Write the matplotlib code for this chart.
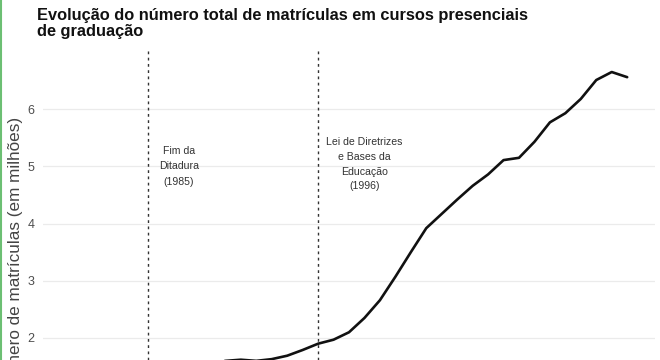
import matplotlib
matplotlib.use("Agg")
import matplotlib.pyplot as plt
from matplotlib.lines import Line2D

# ---- data ----
years = list(range(1980, 2017))
matriculas = [1.38, 1.39, 1.41, 1.44, 1.40, 1.37, 1.42, 1.47, 1.50, 1.55,
              1.60, 1.62, 1.60, 1.63, 1.69, 1.79, 1.90, 1.97, 2.10, 2.35,
              2.66, 3.07, 3.50, 3.92, 4.17, 4.42, 4.66, 4.86, 5.11, 5.15,
              5.43, 5.77, 5.93, 6.18, 6.51, 6.65, 6.56]
event_years = [1985, 1996]
event_labels = ["Fim da\nDitadura\n(1985)",
                "Lei de Diretrizes\ne Bases da\nEducação\n(1996)"]
y_ticks = [2, 3, 4, 5, 6]
title = "Evolução do número total de matrículas em cursos presenciais\nde graduação"
ylabel = "Número de matrículas (em milhões)"

plt.rcParams['font.family'] = ['Liberation Sans', 'DejaVu Sans']

W, H = 660, 360
fig = plt.figure(figsize=(W / 100, H / 100), dpi=100)
fig.patch.set_facecolor('white')

left, right, top = 43, 655, 50
ax = fig.add_axes([left / W, 0, (right - left) / W, (H - top) / H])
ax.set_facecolor('white')

ax.plot(years, matriculas, color='#111111', lw=1.9, solid_joinstyle='round',
        solid_capstyle='round', zorder=3)
for ey in event_years:
    ax.axvline(ey, color='#333333', lw=1.0, ls=(0, (2.0, 2.5)), zorder=2)

ax.set_xlim(1978.2, 2017.8)
ax.set_ylim(1.615, 7.035)
ax.set_yticks(y_ticks)
ax.set_yticklabels([str(t) for t in y_ticks])
ax.set_xticks([])
ax.grid(axis='y', color='#ebebeb', lw=0.9)
ax.tick_params(axis='y', length=0, pad=6, labelsize=9, labelcolor='#4d4d4d')
for s in ax.spines.values():
    s.set_visible(False)

# event annotations
ax.text(1987.0, 5.0, event_labels[0], ha='center', va='center', fontsize=7.6,
        color='#333333', linespacing=1.65)
ax.text(1999.0, 5.04, event_labels[1], ha='center', va='center', fontsize=7.6,
        color='#333333', linespacing=1.6)

# title
fig.text(37 / W, 1 - 8 / H, title, ha='left', va='top', fontsize=11.8,
         fontweight='bold', color='#111111', linespacing=1.05)

# y label (partially cropped off bottom, as in the reference)
fig.text(16 / W, 1 - 117 / H, ylabel, ha='center', va='top', rotation=90,
         fontsize=12.3, color='#444444')

# left green border (screenshot edge)
fig.add_artist(Line2D([1 / W, 1 / W], [0, 1], color='#6cbf73', lw=1.5,
                      transform=fig.transFigure))

fig.savefig('out.png', dpi=100)
